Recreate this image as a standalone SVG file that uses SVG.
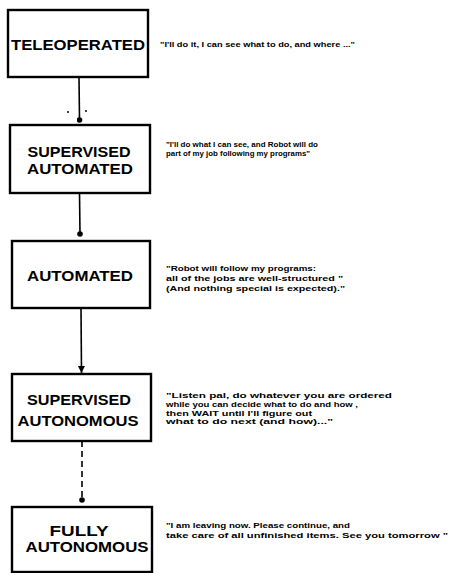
<svg xmlns="http://www.w3.org/2000/svg" width="453" height="573" viewBox="0 0 453 573">
<defs>
<style>
.box{fill:#fff;stroke:#000;stroke-width:2.4}
.lbl{font-family:"Liberation Sans",Arial,sans-serif;font-weight:bold;font-size:15.5px;fill:#000;text-anchor:middle}
.q{font-family:"Liberation Sans",Arial,sans-serif;font-weight:bold;font-size:8px;fill:#000}
.c{stroke:#000;stroke-width:1.6;fill:none}
</style>
<marker id="dot" viewBox="0 0 6 6" refX="3" refY="3" markerWidth="6" markerHeight="6" markerUnits="userSpaceOnUse"><circle cx="3" cy="3" r="2.8" fill="#000"/></marker>
<marker id="tri" viewBox="0 0 8 8" refX="7.5" refY="4" markerWidth="8" markerHeight="8" markerUnits="userSpaceOnUse" orient="auto"><path d="M0.5,0.5 L7.5,4 L0.5,7.5 Z" fill="#000"/></marker>
</defs>
<rect width="453" height="573" fill="#fff"/>
<g id="connectors">
<line class="c" x1="79" y1="77" x2="79.5" y2="120" marker-end="url(#dot)"/>
<circle cx="68" cy="112" r="1" fill="#000"/>
<circle cx="86" cy="111" r="1" fill="#000"/>
<line class="c" x1="79.5" y1="193" x2="80" y2="234" marker-end="url(#dot)"/>
<line class="c" x1="81" y1="308" x2="81.5" y2="373" marker-end="url(#tri)"/>
<line class="c" x1="82" y1="441" x2="82" y2="500" stroke-dasharray="6,4" marker-end="url(#dot)"/>
</g>
<g id="teleoperated">
<rect class="box" x="8" y="10" width="140" height="67"/>
<text class="lbl" x="78" y="50" textLength="134" lengthAdjust="spacingAndGlyphs">TELEOPERATED</text>
<text class="q" x="160" y="47" textLength="195" lengthAdjust="spacingAndGlyphs">"I'll do it, I can see what to do, and where ..."</text>
</g>
<g id="supervised-automated">
<rect class="box" x="10" y="125" width="140" height="68"/>
<text class="lbl" x="79" y="157" textLength="103" lengthAdjust="spacingAndGlyphs">SUPERVISED</text>
<text class="lbl" x="80" y="174" textLength="106" lengthAdjust="spacingAndGlyphs">AUTOMATED</text>
<text class="q" x="166" y="147" textLength="152" lengthAdjust="spacingAndGlyphs">"I'll do what I can see, and Robot will do</text>
<text class="q" x="166" y="156" textLength="144" lengthAdjust="spacingAndGlyphs">part of my job following my programs"</text>
</g>
<g id="automated">
<rect class="box" x="12" y="241" width="138" height="67"/>
<text class="lbl" x="80" y="281" textLength="106" lengthAdjust="spacingAndGlyphs">AUTOMATED</text>
<text class="q" x="166" y="271" textLength="150" lengthAdjust="spacingAndGlyphs">"Robot will follow my  programs:</text>
<text class="q" x="166" y="281" textLength="177" lengthAdjust="spacingAndGlyphs">all of the jobs are well-structured "</text>
<text class="q" x="166" y="291" textLength="179" lengthAdjust="spacingAndGlyphs">(And nothing special is expected)."</text>
</g>
<g id="supervised-autonomous">
<rect class="box" x="12" y="374" width="139" height="67"/>
<text class="lbl" x="79" y="405" textLength="104" lengthAdjust="spacingAndGlyphs">SUPERVISED</text>
<text class="lbl" x="78" y="426" textLength="121" lengthAdjust="spacingAndGlyphs">AUTONOMOUS</text>
<text class="q" x="166" y="398" textLength="226" lengthAdjust="spacingAndGlyphs">"Listen pal, do whatever you  are ordered</text>
<text class="q" x="166" y="407" textLength="192" lengthAdjust="spacingAndGlyphs">while you can decide what to do and how ,</text>
<text class="q" x="166" y="415.5" textLength="146" lengthAdjust="spacingAndGlyphs">then WAIT until I'll figure out</text>
<text class="q" x="166" y="424" textLength="167" lengthAdjust="spacingAndGlyphs">what to do next (and how)..."</text>
</g>
<g id="fully-autonomous">
<rect class="box" x="12" y="507" width="140" height="65"/>
<text class="lbl" x="79" y="536" textLength="59" lengthAdjust="spacingAndGlyphs">FULLY</text>
<text class="lbl" x="87" y="552" textLength="123" lengthAdjust="spacingAndGlyphs">AUTONOMOUS</text>
<text class="q" x="166" y="528" textLength="184" lengthAdjust="spacingAndGlyphs">"I am leaving now. Please continue, and</text>
<text class="q" x="166" y="538" textLength="282" lengthAdjust="spacingAndGlyphs">take care of all unfinished items. See you tomorrow "</text>
</g>
</svg>
